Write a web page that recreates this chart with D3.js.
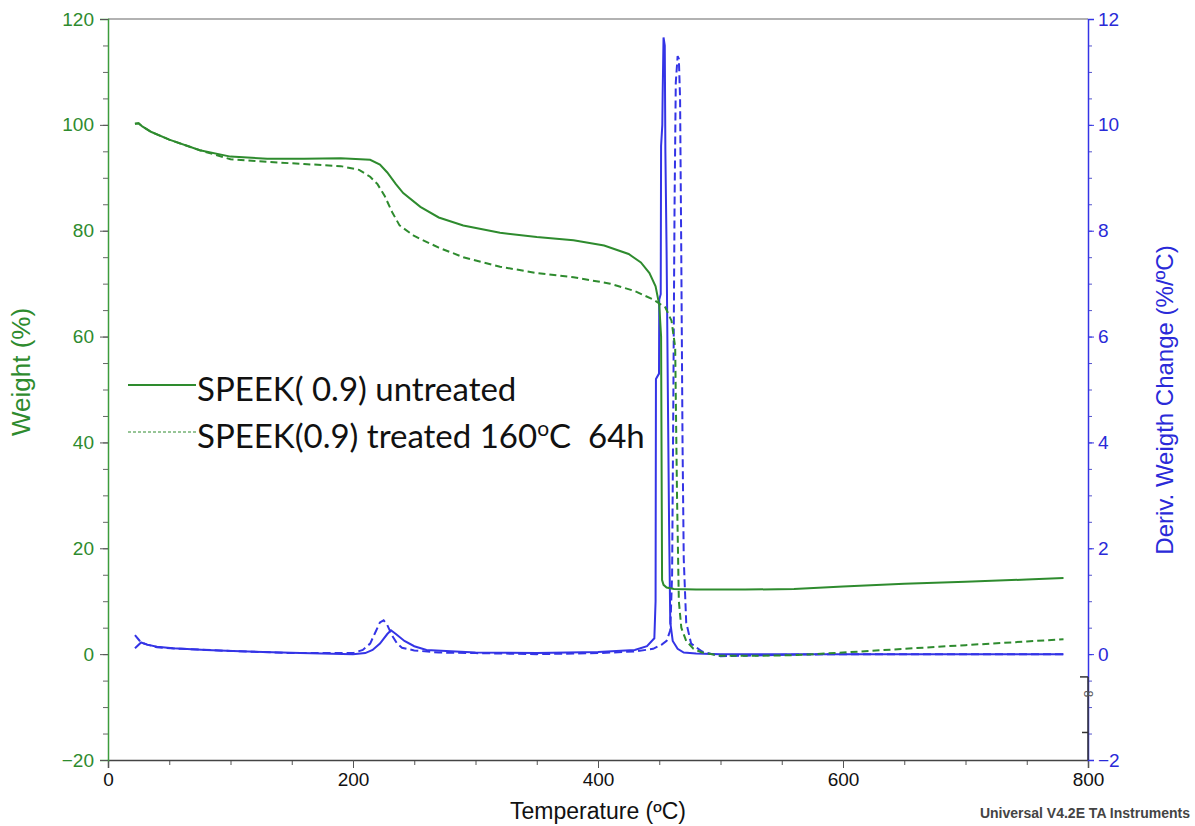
<!DOCTYPE html>
<html>
<head>
<meta charset="utf-8">
<script src="https://cdn.jsdelivr.net/npm/d3@7"></script>
<style>
	body { margin: 0; background: #fff; }
	svg { display: block; }
	.tick text { font-family: Arial, "Liberation Sans", sans-serif; }
</style>
</head>
<body>
<div id="chart"></div>
<script>
// x tick labels and axis ticks
var x_ticks     = [0, 200, 400, 600, 800];
var y_ticks     = [-20, 0, 20, 40, 60, 80, 100, 120];
var y2_ticks    = [-2, 0, 2, 4, 6, 8, 10, 12];

// Weight (%) - untreated
var w1_temp  = [22, 25, 28, 35, 50, 75, 100, 130, 160, 190, 214, 222, 228, 235, 241, 255, 270, 290, 320, 350, 380, 405, 425, 435, 442, 447, 450, 451.5, 452.3, 453.5, 456, 462, 480, 520, 560, 600, 650, 700, 750, 780];
var w1_value = [100.2, 100.3, 99.7, 98.7, 97.2, 95.2, 94, 93.6, 93.6, 93.7, 93.4, 92.5, 91, 88.8, 87.1, 84.5, 82.5, 81, 79.6, 78.8, 78.2, 77.2, 75.6, 74, 72, 69.5, 66, 60, 14, 13.1, 12.6, 12.3, 12.2, 12.2, 12.3, 12.8, 13.3, 13.7, 14.1, 14.4];

// Weight (%) - treated 160 C 64h
var w2_temp  = [22, 25, 28, 35, 50, 75, 100, 130, 160, 190, 205, 214, 220, 226, 232, 238, 250, 270, 290, 320, 350, 380, 410, 430, 445, 455, 460, 463, 464.5, 466, 468, 472, 478, 485, 500, 530, 560, 600, 650, 700, 750, 780];
var w2_value = [100.2, 100.3, 99.7, 98.7, 97.2, 95.2, 93.5, 93, 92.6, 92.2, 91.5, 90.2, 88.8, 86.5, 83.5, 81, 79, 76.8, 75, 73.2, 72, 71.2, 70, 68.6, 67, 65.5, 63, 58, 30, 10, 5, 2.5, 1, 0.3, -0.3, -0.3, -0.2, 0.3, 1, 1.7, 2.4, 2.8];

// Deriv. weight change (%/C) - untreated
var d1_temp  = [22, 27, 32, 40, 53, 80, 102, 157, 200, 210, 216, 222, 228, 231, 235, 242, 250, 260, 300, 350, 400, 430, 440, 446, 447, 447.3, 449.8, 450, 451.2, 451.5, 452.5, 452.8, 453.5, 454.5, 455, 456, 457, 458, 459, 461, 465, 470, 480, 500, 600, 700, 780];
var d1_value = [0.11, 0.22, 0.18, 0.14, 0.11, 0.08, 0.06, 0.02, 0.0, 0.02, 0.08, 0.2, 0.38, 0.45, 0.38, 0.25, 0.15, 0.08, 0.03, 0.02, 0.04, 0.08, 0.15, 0.3, 1.0, 5.2, 5.3, 6.7, 6.8, 9.6, 10.0, 10.6, 11.65, 11.5, 9.5, 7.6, 5.0, 2.5, 0.6, 0.25, 0.1, 0.03, 0.01, 0.0, 0.0, 0.0, 0.0];

// Deriv. weight change (%/C) - treated
var d2_temp  = [22, 27, 32, 40, 60, 100, 150, 200, 208, 214, 218, 222, 225, 228, 232, 236, 240, 250, 270, 300, 350, 400, 430, 445, 452, 456, 459, 460.5, 461.5, 462.5, 463.5, 465, 466, 467, 468, 469, 470, 472, 476, 485, 500, 520, 560, 600, 700, 780];
var d2_value = [0.36, 0.22, 0.18, 0.13, 0.1, 0.06, 0.02, 0.02, 0.08, 0.2, 0.4, 0.6, 0.64, 0.55, 0.35, 0.2, 0.12, 0.07, 0.03, 0.02, 0.0, 0.02, 0.05, 0.1, 0.18, 0.25, 0.45, 1.5, 4.8, 8.5, 10.8, 11.3, 11.25, 10.5, 7.5, 4.0, 1.8, 0.6, 0.2, 0.05, -0.04, -0.03, -0.01, 0.0, 0.0, 0.0];

var legend_labels = ['SPEEK( 0.9) untreated', 'SPEEK(0.9) treated 160'];


var chart_width  = 1195;
var chart_height = 826;
var left   = 108;
var right  = 1088;
var top_y  = 19;
var bottom = 760;

var green      = '#2e8b2e';
var green_axis = '#3c9c3c';
var blue       = '#3434e6';

// Scales
var x_scale = d3.scaleLinear()
				.domain([0, 800])
				.range([left, right]);

var y_scale = d3.scaleLinear()
				.domain([-20, 120])
				.range([bottom, top_y]);

var y2_scale = d3.scaleLinear()
				.domain([-2, 12])
				.range([bottom, top_y]);


var svg = d3.select('#chart')
			.append('svg')
			.attr('width', chart_width)
			.attr('height', chart_height);


// top frame line
svg.append('line')
	.attr('x1', left).attr('x2', right)
	.attr('y1', top_y).attr('y2', top_y)
	.attr('stroke', '#999')
	.attr('stroke-width', 1.5);


// Axes: minor ticks first, then major with labels
function minor(step, lo, hi) {
	return d3.range(lo, hi + step / 2, step);
}

var x_minor = svg.append('g')
	.attr('transform', 'translate(0,' + bottom + ')')
	.call(d3.axisBottom(x_scale).tickValues(minor(50, 0, 800)).tickSize(5).tickFormat(''));
var x_axis = svg.append('g')
	.attr('transform', 'translate(0,' + bottom + ')')
	.call(d3.axisBottom(x_scale).tickValues(x_ticks).tickSize(8).tickPadding(5).tickFormat(d3.format('d')));
x_axis.select('.domain').attr('stroke', '#444').attr('stroke-width', 1.5);
x_minor.select('.domain').remove();
svg.selectAll('g').selectAll('.tick line').attr('stroke', '#555');
x_axis.selectAll('.tick text').attr('font-size', 19).attr('fill', '#111');

var y_minor = svg.append('g')
	.attr('transform', 'translate(' + left + ',0)')
	.call(d3.axisLeft(y_scale).tickValues(minor(5, -20, 120)).tickSize(5).tickFormat(''));
y_minor.select('.domain').remove();
y_minor.selectAll('.tick line').attr('stroke', '#666');
var y_axis = svg.append('g')
	.attr('transform', 'translate(' + left + ',0)')
	.call(d3.axisLeft(y_scale).tickValues(y_ticks).tickSize(8).tickPadding(6));
y_axis.select('.domain').attr('stroke', green_axis).attr('stroke-width', 1.5);
y_axis.selectAll('.tick line').attr('stroke', '#555');
y_axis.selectAll('.tick text').attr('font-size', 19).attr('fill', '#2e8b2e');

var y2_minor = svg.append('g')
	.attr('transform', 'translate(' + right + ',0)')
	.call(d3.axisRight(y2_scale).tickValues(minor(0.5, -2, 12)).tickSize(4).tickFormat(''));
y2_minor.select('.domain').remove();
y2_minor.selectAll('.tick line').attr('stroke', '#5555cc');
var y2_axis = svg.append('g')
	.attr('transform', 'translate(' + right + ',0)')
	.call(d3.axisRight(y2_scale).tickValues(y2_ticks).tickSize(6).tickPadding(4));
y2_axis.select('.domain').attr('stroke', blue).attr('stroke-width', 1.5);
y2_axis.selectAll('.tick line').attr('stroke', blue);
y2_axis.selectAll('.tick text').attr('font-size', 19).attr('fill', '#2a2ad8');


// small black instrument sub-axis near bottom right
var sub = svg.append('g').attr('stroke', '#333').attr('stroke-width', 1.5);
sub.append('line')
	.attr('x1', right).attr('x2', right)
	.attr('y1', y2_scale(-0.43)).attr('y2', bottom);
sub.append('line')
	.attr('x1', right - 8).attr('x2', right)
	.attr('y1', y2_scale(-0.43)).attr('y2', y2_scale(-0.43));
sub.append('line')
	.attr('x1', right - 6).attr('x2', right)
	.attr('y1', y2_scale(-1.48)).attr('y2', y2_scale(-1.48));
svg.append('text')
	.attr('transform', 'translate(' + (right - 4) + ',' + y2_scale(-0.75) + ') rotate(90)')
	.attr('text-anchor', 'middle')
	.attr('font-family', 'Arial, sans-serif')
	.attr('font-size', 12)
	.attr('fill', '#555')
	.text('8');


// Axis titles
svg.append('text')
	.attr('transform', 'translate(' + 598 + ',' + 819 + ')')
	.attr('text-anchor', 'middle')
	.attr('font-family', 'Arial, "Liberation Sans", sans-serif')
	.attr('font-size', 23)
	.attr('fill', '#111')
	.text('Temperature (ºC)');

svg.append('text')
	.attr('transform', 'translate(' + 30 + ',' + 372 + ') rotate(-90)')
	.attr('text-anchor', 'middle')
	.attr('font-family', 'Arial, "Liberation Sans", sans-serif')
	.attr('font-size', 26)
	.attr('fill', '#2e8b2e')
	.text('Weight (%)');

svg.append('text')
	.attr('transform', 'translate(' + 1173 + ',' + 400 + ') rotate(-90)')
	.attr('text-anchor', 'middle')
	.attr('font-family', 'Arial, "Liberation Sans", sans-serif')
	.attr('font-size', 24)
	.attr('fill', '#2a2ad8')
	.text('Deriv. Weigth Change (%/ºC)');

svg.append('text')
	.attr('x', 1190)
	.attr('y', 818)
	.attr('text-anchor', 'end')
	.attr('font-family', 'Arial, "Liberation Sans", sans-serif')
	.attr('font-size', 14)
	.attr('font-weight', 'bold')
	.attr('fill', '#444')
	.text('Universal V4.2E TA Instruments');


// Lines
function zip(t, v) {
	return t.map(function(d, i) {
		return { t: d, v: v[i] };
	});
}

var weight_line = d3.line()
		.x(function(d) { return x_scale(d.t); })
		.y(function(d) { return y_scale(d.v); });

var deriv_line = d3.line()
		.x(function(d) { return x_scale(d.t); })
		.y(function(d) { return y2_scale(d.v); });

svg.append('path')
	.datum(zip(d1_temp, d1_value))
	.attr('fill', 'none')
	.attr('stroke', blue)
	.attr('stroke-width', 2)
	.attr('d', deriv_line);

svg.append('path')
	.datum(zip(d2_temp, d2_value))
	.attr('fill', 'none')
	.attr('stroke', blue)
	.attr('stroke-width', 2)
	.attr('stroke-dasharray', '8,4')
	.attr('d', deriv_line);

svg.append('path')
	.datum(zip(w1_temp, w1_value))
	.attr('fill', 'none')
	.attr('stroke', green)
	.attr('stroke-width', 2)
	.attr('d', weight_line);

svg.append('path')
	.datum(zip(w2_temp, w2_value))
	.attr('fill', 'none')
	.attr('stroke', green)
	.attr('stroke-width', 2)
	.attr('stroke-dasharray', '7,4')
	.attr('d', weight_line);


// Legend
var legend = svg.append('g')
	.attr('font-family', 'Lato, "Open Sans", sans-serif')
	.attr('font-size', 33)
	.attr('fill', '#111');

legend.append('line')
	.attr('x1', 128).attr('x2', 196)
	.attr('y1', 385).attr('y2', 385)
	.attr('stroke', green)
	.attr('stroke-width', 2);
legend.append('text')
	.attr('x', 197)
	.attr('y', 401)
	.text(legend_labels[0]);

legend.append('line')
	.attr('x1', 128).attr('x2', 196)
	.attr('y1', 432).attr('y2', 432)
	.attr('stroke', green)
	.attr('stroke-width', 1)
	.attr('stroke-dasharray', '3,2');
var t2 = legend.append('text')
	.attr('x', 197)
	.attr('y', 448);
t2.append('tspan').text(legend_labels[1]);
t2.append('tspan').attr('dy', -12).attr('font-size', 21).text('o');
t2.append('tspan').attr('dy', 12).text('C\u00a0\u00a064h');
</script>
</body>
</html>
